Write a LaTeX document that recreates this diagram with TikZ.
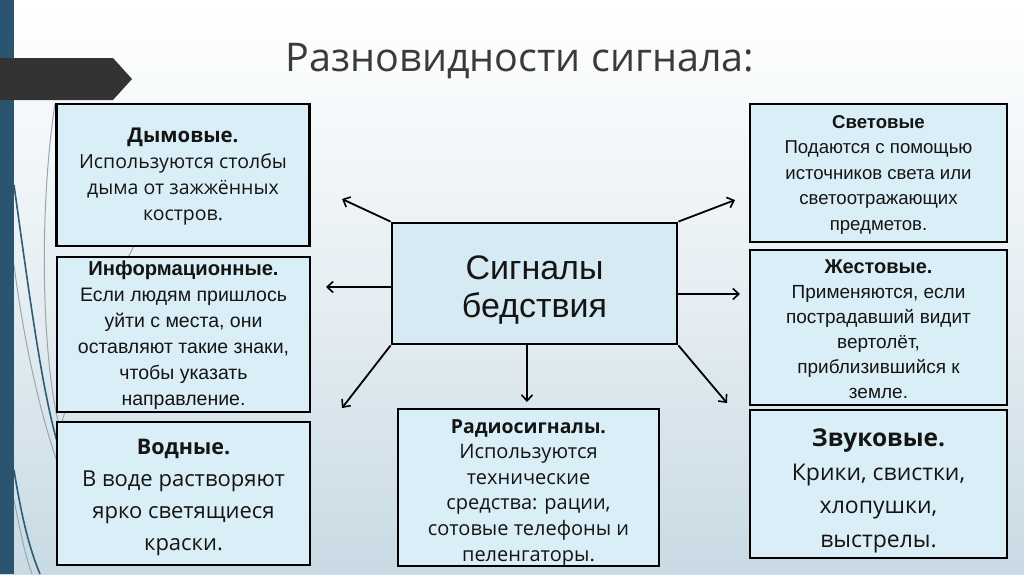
\documentclass[tikz,border=0pt]{standalone}
\usepackage{fontspec}
\setmainfont{Liberation Sans}
\newfontfamily\gothic{Open Sans}
\usetikzlibrary{arrows.meta}
\definecolor{strip}{HTML}{2B5470}
\definecolor{flag}{HTML}{333333}
\definecolor{bgbot}{HTML}{C8DAE4}
\definecolor{boxfill}{HTML}{DAEEF7}
\definecolor{cfill}{HTML}{D6EAF3}
\definecolor{txt}{HTML}{141414}
\definecolor{titlec}{HTML}{3A3A3A}
\definecolor{curvea}{HTML}{2E5C78}
\definecolor{curveb}{HTML}{9AA6AC}
\begin{document}
\begin{tikzpicture}[x=1pt,y=-1pt,
  box/.style={draw=black, line width=2.8pt, fill=boxfill, align=center, inner sep=0pt, text=txt},
  thinbox/.style={box, line width=1.4pt},
  arr/.style={-{Straight Barb[length=6pt,width=11pt,line width=1.6pt]}, line width=1.8pt},
  deco/.style={line width=1pt, curveb},
  decoa/.style={line width=1.6pt, curvea}]
\useasboundingbox (0,0) rectangle (1024,574);
\shade[top color=white, bottom color=bgbot, middle color={white!55!bgbot}] (0,0) rectangle (1024,574);
% decorative curves
\draw[decoa] (14,185) .. controls (30,300) and (42,390) .. (58,445);
\draw[deco] (55,104) .. controls (40,200) and (40,350) .. (60,430);
\draw[deco] (14,265) .. controls (25,350) and (42,420) .. (60,470);
\draw[deco] (150,215) .. controls (110,290) and (75,370) .. (57,440);
\draw[decoa] (14,470) .. controls (22,520) and (30,550) .. (40,574);
\draw[deco] (14,500) .. controls (20,530) and (25,555) .. (32,574);
% left strip and flag
\fill[strip] (0,0) rectangle (14,574);
\fill[flag] (0,58) -- (113,58) -- (132,79) -- (113,100) -- (0,100) -- cycle;
% title
\node[font=\gothic\fontsize{39.5}{42}\selectfont, text=titlec] (title) at (520,61) {Разновидности сигнала:};
% boxes
\node[box, minimum width=253pt, minimum height=142pt, font=\gothic\fontsize{19.5}{26}\selectfont] (dym) at (183,175)
  {\rule{0pt}{18pt}{\bfseries\fontsize{20.4}{26}\selectfont Дымовые.}\\Используются столбы\\дыма от зажжённых\\костров.};
\node[box, minimum width=253pt, minimum height=155pt, font=\fontsize{19.5}{26}\selectfont] (inf) at (183.5,334.5)
  {\rule{0pt}{17pt}{\bfseries\fontsize{20.2}{26}\selectfont Информационные.}\\Если людям пришлось\\уйти с места, они\\оставляют такие знаки,\\чтобы указать\\направление.};
\node[thinbox, minimum width=253pt, minimum height=143pt, font=\gothic\fontsize{22}{32}\selectfont] (vod) at (183.5,493.5)
  {\rule{0pt}{23pt}{\bfseries\fontsize{21.5}{32}\selectfont Водные.}\\В воде растворяют\\ярко светящиеся\\краски.};
\node[box, fill=cfill, minimum width=285pt, minimum height=121pt, font=\fontsize{34}{38}\selectfont] (c) at (534.5,283.5)
  {\rule{0pt}{37pt}Сигналы\\бедствия};
\node[box, minimum width=257pt, minimum height=138pt, font=\fontsize{18.6}{25.5}\selectfont] (svet) at (878.5,173)
  {\rule{0pt}{16pt}{\bfseries Световые}\\Подаются с помощью\\источников света или\\светоотражающих\\предметов.};
\node[box, minimum width=257pt, minimum height=155pt, font=\fontsize{19}{25}\selectfont] (zhest) at (878.5,327.5)
  {\rule{0pt}{17pt}{\bfseries\fontsize{20}{25}\selectfont Жестовые.}\\Применяются, если\\пострадавший видит\\вертолёт,\\приблизившийся к\\земле.};
\node[thinbox, minimum width=261pt, minimum height=152pt, font=\gothic\fontsize{20}{25.6}\selectfont] (radio) at (528.5,487.5)
  {\rule{0pt}{24pt}{\bfseries\fontsize{19.4}{25.6}\selectfont Радиосигналы.}\\Используются\\технические\\средства: рации,\\сотовые телефоны и\\пеленгаторы.};
\node[thinbox, line width=1.8pt, minimum width=257pt, minimum height=148pt, font=\gothic\fontsize{23}{33.5}\selectfont] (zvuk) at (878.5,484)
  {\rule{0pt}{31pt}{\bfseries\fontsize{24.5}{33.5}\selectfont Звуковые.}\\Крики, свистки,\\хлопушки,\\выстрелы.};
% arrow ends
\coordinate (a1) at (342,199);
\coordinate (a2) at (326,287);
\coordinate (a3) at (342,408);
\coordinate (a4) at (527,402);
\coordinate (a5) at (727,403);
\coordinate (a6) at (740,294);
\coordinate (a7) at (735,200);
\draw[arr] (c.north west) -- (a1);
\draw[arr] (c.west |- a2) -- (a2);
\draw[arr] (c.south west) -- (a3);
\draw[arr] (c.south -| a4) -- (a4);
\draw[arr] (c.south east) -- (a5);
\draw[arr] (c.east |- a6) -- (a6);
\draw[arr] (c.north east) -- (a7);
\end{tikzpicture}
\end{document}
